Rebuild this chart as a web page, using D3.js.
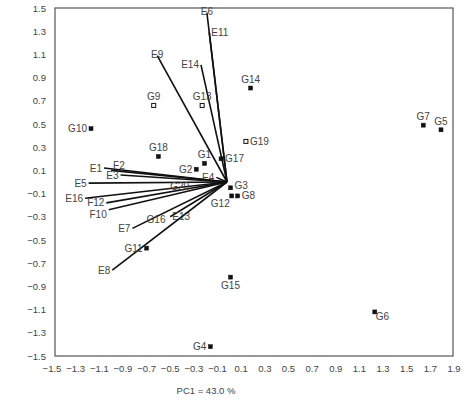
<!DOCTYPE html>
<html><head><meta charset="utf-8">
<script src="https://cdn.jsdelivr.net/npm/d3@7"></script>
<style>body{margin:0;background:#fff}text{font-family:"Liberation Sans",Arial,sans-serif}</style>
</head><body><svg id="c" width="474" height="406"></svg>
<script>
// Vectors (variables)
const vecNames = ["E6","E11","E14","E9","E4","E1","F2","E3","E5","E16","F12","F10","E7","E13","E8"];
const vecX = [-0.19,-0.17,-0.24,-0.61,-0.11,-1.06,-1.0,-0.92,-1.19,-1.22,-1.04,-1.02,-0.82,-0.5,-0.99];
const vecY = [1.46,1.29,1.01,1.09,0.04,0.12,0.1,0.06,-0.01,-0.14,-0.18,-0.24,-0.4,-0.3,-0.76];
const vecLabelPos = ["c","r","l","c","l","l","a","l","l","l","l","lb","l","r","l"];
// Genotype points
const ptNames = ["G1","G2","G3","G4","G5","G6","G7","G8","G9","G10","G11","G12","G13","G14","G15","G16","G17","G18","G19","G20"];
const ptX = [-0.21,-0.28,0.01,-0.16,1.79,1.23,1.64,0.07,-0.64,-1.17,-0.7,0.02,-0.23,0.18,0.01,-0.62,-0.07,-0.6,0.14,-0.42];
const ptY = [0.16,0.11,-0.05,-1.42,0.45,-1.12,0.49,-0.12,0.66,0.46,-0.57,-0.12,0.66,0.81,-0.82,-0.4,0.2,0.22,0.35,-0.04];
const ptLabelPos = ["a","l","ru","l","a","br","a","r","a","l","l","bl","a","a","b","a","r","a","r","n"];
const ptHollow = ["G9","G13","G19"];
const ptNoMarker = ["G16","G20"];
const xTicks = [-1.5,-1.3,-1.1,-0.9,-0.7,-0.5,-0.3,-0.1,0.1,0.3,0.5,0.7,0.9,1.1,1.3,1.5,1.7,1.9];
const yTicks = [1.5,1.3,1.1,0.9,0.7,0.5,0.3,0.1,-0.1,-0.3,-0.5,-0.7,-0.9,-1.1,-1.3,-1.5];
const xTitle = "PC1 = 43.0 %";

const svg = d3.select("#c");
const x = d3.scaleLinear().domain([-1.5,1.9]).range([52,454]);
const y = d3.scaleLinear().domain([-1.5,1.5]).range([356,8]);
const L=55,R=453;
svg.append("rect").attr("x",L).attr("y",8).attr("width",R-L).attr("height",348).attr("fill","none").attr("stroke","#555").attr("stroke-width",1.2);
const fmt = v => d3.format(".1f")(v);
svg.selectAll(".xt").data(xTicks).join("text").attr("x",d=>x(d)).attr("y",372).attr("text-anchor","middle")
  .attr("font-size",9.5).attr("fill","#444").text(fmt);
svg.selectAll(".yt").data(yTicks).join("text").attr("x",46).attr("y",d=>y(d)+3.5).attr("text-anchor","end")
  .attr("font-size",9.5).attr("fill","#444").text(fmt);
svg.append("text").attr("x",206).attr("y",394).attr("text-anchor","middle").attr("font-size",9.5).attr("fill","#444").text(xTitle);

const ox=-0.02, oy=0;
vecNames.forEach((n,i)=>{
  svg.append("line").attr("x1",x(ox)).attr("y1",y(oy)).attr("x2",x(vecX[i])).attr("y2",y(vecY[i]))
    .attr("stroke","#111").attr("stroke-width",1.6);
  const p=vecLabelPos[i]; let tx=x(vecX[i]),ty=y(vecY[i])+3.5,a="middle";
  if(p==="l"){tx-=2;a="end";} else if(p==="r"){tx+=2;a="start";}
  else if(p==="lb"){tx-=2;ty+=5;a="end";} else if(p==="a"){tx+=2;ty-=5;a="start";}
  else {ty=y(vecY[i])+2;}
  svg.append("text").attr("x",tx).attr("y",ty).attr("text-anchor",a).attr("font-size",10).attr("fill","#444").text(n);
});
ptNames.forEach((n,i)=>{
  const px=x(ptX[i]),py=y(ptY[i]);
  if(!ptNoMarker.includes(n)){
    const h=ptHollow.includes(n);
    svg.append("rect").attr("x",px-2).attr("y",py-2).attr("width",4).attr("height",4)
      .attr("fill",h?"#fff":"#111").attr("stroke","#111").attr("stroke-width",h?1:0.5);
  }
  const p=ptLabelPos[i]; let tx=px,ty=py,a="middle";
  if(p==="a"){ty=py-5;} else if(p==="l"){tx=px-4;ty=py+3.5;a="end";} else if(p==="r"){tx=px+4;ty=py+3.5;a="start";}
  else if(p==="ru"){tx=px+4;ty=py+1;a="start";}
  else if(p==="b"){ty=py+12;} else if(p==="br"){tx=px+1;ty=py+8;a="start";} else if(p==="bl"){tx=px-2;ty=py+11;a="end";}
  else {ty=py+3.5;}
  svg.append("text").attr("x",tx).attr("y",ty).attr("text-anchor",a).attr("font-size",10).attr("fill","#444").text(n);
});
</script></body></html>
